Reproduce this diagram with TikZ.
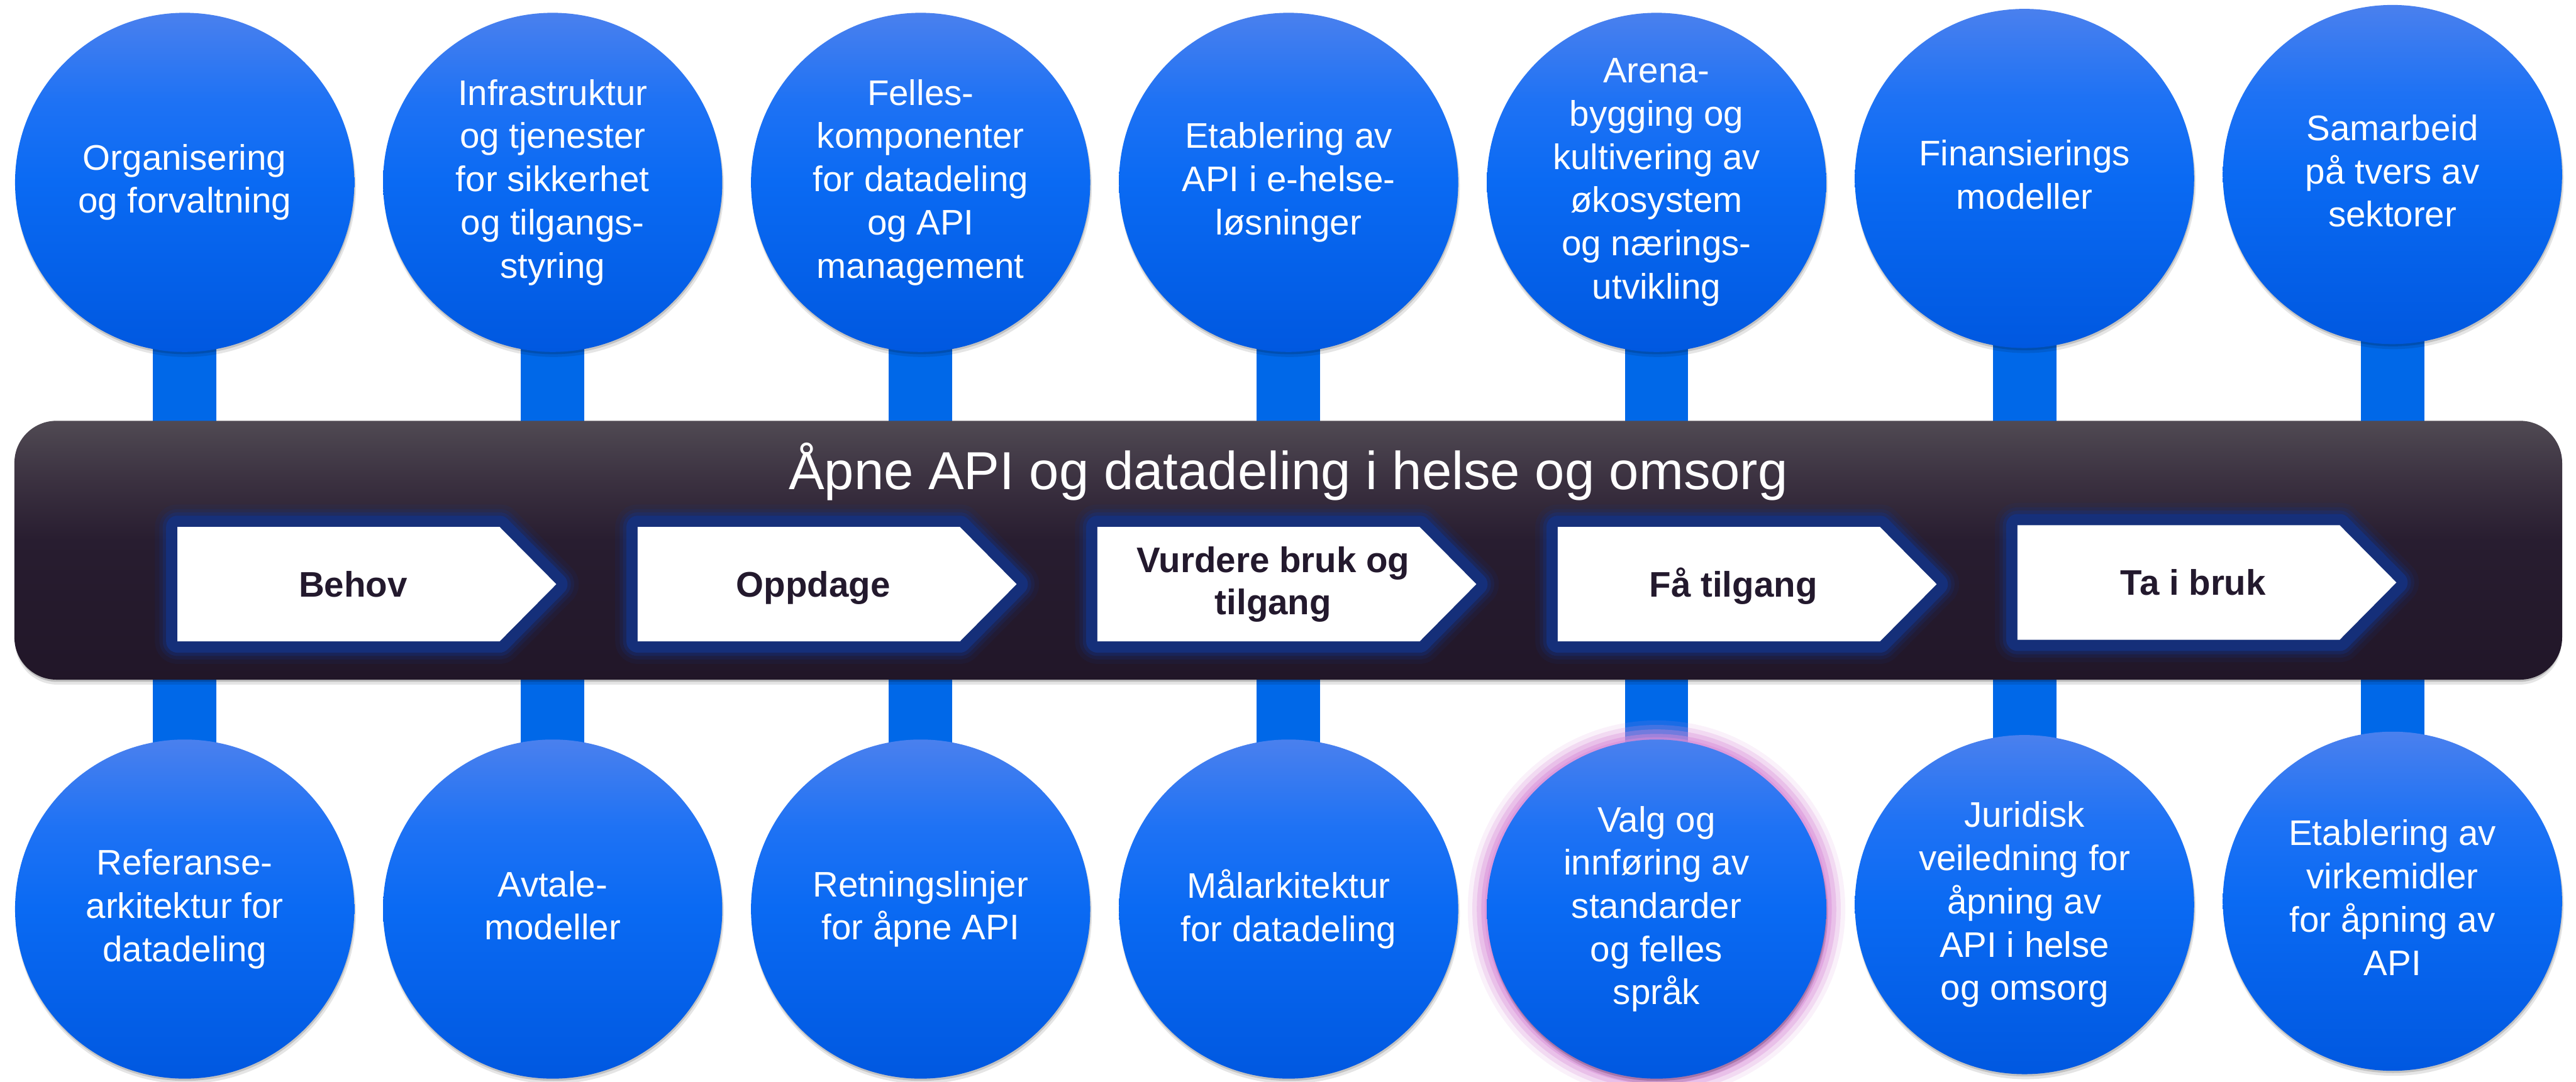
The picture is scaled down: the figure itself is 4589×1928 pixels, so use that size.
\documentclass[tikz,border=0pt]{standalone}
\usepackage{fontspec}
\setmainfont{Liberation Sans}
\usetikzlibrary{calc}

% palette
\definecolor{stemblue}{RGB}{0,104,232}
\definecolor{circtop}{RGB}{74,128,238}
\definecolor{circupper}{RGB}{30,114,244}
\definecolor{circmid}{RGB}{10,106,243}
\definecolor{circbot}{RGB}{0,88,224}
\definecolor{bartop}{RGB}{80,74,83}
\definecolor{barupper}{RGB}{60,50,65}
\definecolor{barmid}{RGB}{40,29,48}
\definecolor{barbot}{RGB}{33,22,40}
\definecolor{glownavy}{RGB}{20,50,130}
\definecolor{glowpink}{RGB}{216,140,216}
\definecolor{labeldark}{RGB}{35,25,45}

% vertical shadings (25bp = bottom of the path, 75bp = top)
\pgfdeclareverticalshading{circshade}{100bp}{color(0bp)=(circbot); color(25bp)=(circbot); color(50bp)=(circmid); color(62bp)=(circupper); color(75bp)=(circtop); color(100bp)=(circtop)}
\pgfdeclareverticalshading{barshade}{100bp}{color(0bp)=(barbot); color(25bp)=(barbot); color(52bp)=(barmid); color(64bp)=(barupper); color(75bp)=(bartop); color(100bp)=(bartop)}

\pgfdeclarelayer{bg}
\pgfdeclarelayer{back}
\pgfsetlayers{bg,back,main}

% one process step: glow, white chevron box and its label
% #1 name, #2 left, #3 top, #4 bottom, #5 label
\newcommand\flowstep[5]{%
  \foreach \w/\o in {0.8/0.12, 0.64/0.2, 0.52/0.35, 0.4/0.8}{%
    \draw[glownavy, line width=\w cm, opacity=\o, line join=round]
      (#2,#3) -- (#2+574,#3) -- (#2+675,{(#3+#4)/2}) -- (#2+574,#4) -- (#2,#4) -- cycle;}
  \fill[white] (#2,#3) -- (#2+574,#3) -- (#2+675,{(#3+#4)/2}) -- (#2+574,#4) -- (#2,#4) -- cycle;
  \node[steplabel] (#1) at (#2+313,{(#3+#4)/2}) {#5};}

% one topic circle with its drop shadow
% #1 name, #2 x, #3 y, #4 text
\newcommand\topicbubble[4]{%
  \fill[black, opacity=0.10] (#2+2,#3+8) circle (3.03cm);
  \fill[black, opacity=0.15] (#2+1,#3+4) circle (3.02cm);
  \node[bubble] (#1) at (#2,#3) {#4};}

\begin{document}
\begin{tikzpicture}[x=0.01cm, y=-0.01cm,
  % struts so that text is centred from cap height to the last baseline
  capcentred/.style={execute at begin node={\rule{0pt}{0.926em}},
    execute at end node={\rule[-0.21em]{0pt}{0pt}}},
  bubble/.style={circle, minimum size=6.04cm, inner sep=0pt, shade, shading=circshade,
    text=white, align=center, font=\fontsize{18}{21.9}\selectfont, capcentred},
  steplabel/.style={text=labeldark, align=center, inner sep=0pt,
    font=\bfseries\fontsize{18}{21.3}\selectfont, capcentred},
  barbox/.style={rectangle, rounded corners=0.75cm, minimum width=45.36cm,
    minimum height=4.61cm, inner sep=0pt, shade, shading=barshade},
  titletext/.style={text=white, anchor=base, inner sep=0pt,
    font=\fontsize{27.1}{32}\selectfont},
  stemline/.style={stemblue, line width=1.13cm}]

\useasboundingbox (0,0) rectangle (4589,1928);
\begin{pgfonlayer}{bg}
  \fill[white] (0,0) rectangle (4589,1928);
\end{pgfonlayer}

% central band
\fill[black, opacity=0.10, rounded corners=0.75cm] (27,759) rectangle (4563,1220);
\fill[black, opacity=0.18, rounded corners=0.75cm] (27,754) rectangle (4563,1215);
\node[barbox] (bar) at (2295,980.5) {};
\node[titletext] (title) at (2295,872) {Åpne API og datadeling i helse og omsorg};

% process steps
\flowstep{s1}{316}{939}{1143}{Behov}
\flowstep{s2}{1136}{939}{1143}{Oppdage}
\flowstep{s3}{1955}{939}{1143}{Vurdere bruk og\\tilgang}
\flowstep{s4}{2775}{939}{1143}{Få tilgang}
\flowstep{s5}{3594}{936}{1140}{Ta i bruk}

% upper row of topics
\topicbubble{t1}{329}{325}{Organisering\\og forvaltning}
\topicbubble{t2}{984.5}{325}{Infrastruktur\\og tjenester\\for sikkerhet\\og tilgangs-\\styring}
\topicbubble{t3}{1640}{325}{Felles-\\komponenter\\for datadeling\\og API\\management}
\topicbubble{t4}{2295.5}{325}{Etablering av\\API i e-helse-\\løsninger}
\topicbubble{t5}{2951}{325}{Arena-\\bygging og\\kultivering av\\økosystem\\og nærings-\\utvikling}
\topicbubble{t6}{3606.5}{318}{Finansierings\\modeller}
\topicbubble{t7}{4262}{311}{Samarbeid\\på tvers av\\sektorer}

% lower row of topics (the fifth one highlighted)
\topicbubble{b1}{329}{1620}{Referanse-\\arkitektur for\\datadeling}
\topicbubble{b2}{984.5}{1620}{Avtale-\\modeller}
\topicbubble{b3}{1640}{1620}{Retningslinjer\\for åpne API}
\topicbubble{b4}{2295.5}{1620}{Målarkitektur\\for datadeling}
\foreach \r/\o in {3.36/0.12, 3.28/0.22, 3.20/0.32, 3.12/0.45, 3.06/0.5}
  \fill[glowpink, opacity=\o] (2951,1620) circle (\r cm);
\topicbubble{b5}{2951}{1620}{Valg og\\innføring av\\standarder\\og felles\\språk}
\topicbubble{b6}{3606.5}{1612}{Juridisk\\veiledning for\\åpning av\\API i helse\\og omsorg}
\topicbubble{b7}{4262}{1606}{Etablering av\\virkemidler\\for åpning av\\API}

% stems linking each upper topic through the band to the lower one
\begin{pgfonlayer}{back}
  \foreach \k in {1,...,7}
    \draw[stemline] (t\k.center) -- (b\k.center);
\end{pgfonlayer}
\end{tikzpicture}
\end{document}
